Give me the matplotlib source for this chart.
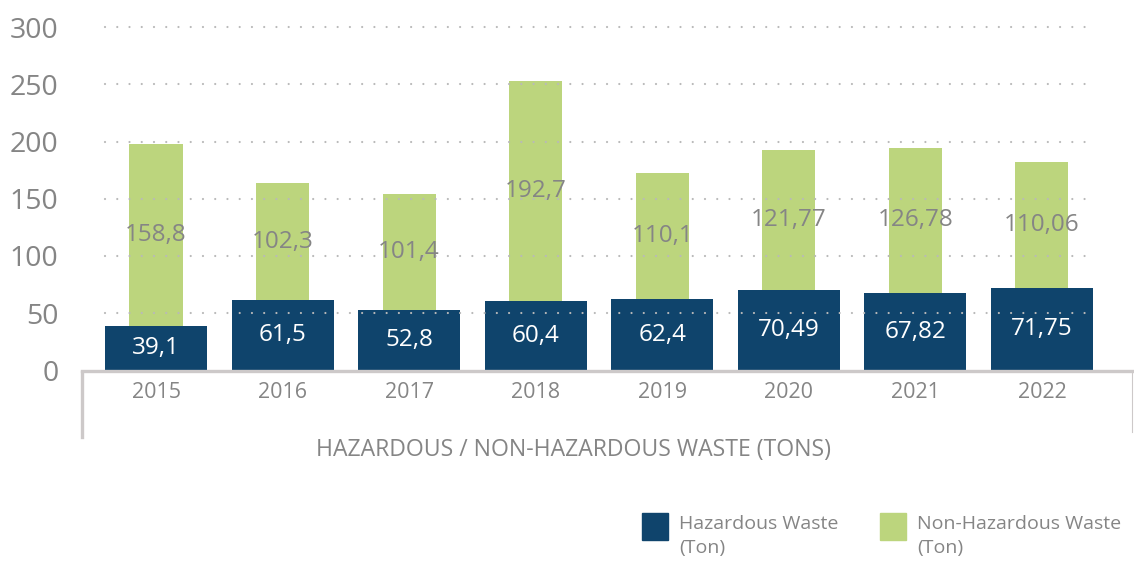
import matplotlib
matplotlib.use("Agg")
import matplotlib.pyplot as plt
from matplotlib.lines import Line2D
from matplotlib.patches import Rectangle

# data
years = ["2015", "2016", "2017", "2018", "2019", "2020", "2021", "2022"]
hazardous = [39.1, 61.5, 52.8, 60.4, 62.4, 70.49, 67.82, 71.75]
non_hazardous = [158.8, 102.3, 101.4, 192.7, 110.1, 121.77, 126.78, 110.06]
haz_labels = ["39,1", "61,5", "52,8", "60,4", "62,4", "70,49", "67,82", "71,75"]
non_haz_labels = ["158,8", "102,3", "101,4", "192,7", "110,1", "121,77", "126,78", "110,06"]
y_ticks = [0, 50, 100, 150, 200, 250, 300]

BLUE = "#0f446c"
GREEN = "#bcd57d"
GREY_TXT = "#858585"
DOTS = "#b9b9b9"
FRAME = "#cdc9c9"

plt.rcParams['font.family'] = ['Open Sans', 'DejaVu Sans']

fig = plt.figure(figsize=(11.34, 5.63), dpi=100)
ax = fig.add_axes([82 / 1134, 192.5 / 563, 1051 / 1134, 343.5 / 563])

x = list(range(len(years)))
wide, narrow = 0.806, 0.42

ax.bar(x, hazardous, width=wide, color=BLUE, zorder=2)
ax.bar(x, non_hazardous, width=narrow, bottom=hazardous, color=GREEN, zorder=1)

# dotted grid on top of the bars
for v in y_ticks[1:]:
    ax.hlines(v, -wide / 2, len(x) - 1 + wide / 2, colors=DOTS, linewidth=1.6,
              linestyles=(0, (0.01, 5.5)), capstyle='round', zorder=3, clip_on=False)

for i in x:
    ax.text(i, hazardous[i] / 2, haz_labels[i], ha='center', va='center',
            color='white', fontsize=17.5, zorder=4)
    ax.text(i, hazardous[i] + non_hazardous[i] / 2, non_haz_labels[i], ha='center',
            va='center', color=GREY_TXT, fontsize=17.5, zorder=4)

ax.set_xlim(-0.585, 7.72)
ax.set_ylim(0, 300)
ax.set_yticks(y_ticks)
ax.set_yticklabels([str(v) for v in y_ticks], fontsize=20.5, color=GREY_TXT)
ax.set_xticks(x)
ax.set_xticklabels(years, fontsize=15.5, color=GREY_TXT)
ax.tick_params(axis='y', length=0, pad=17)
ax.tick_params(axis='x', length=0, pad=8)

for s in ['top', 'right', 'left']:
    ax.spines[s].set_visible(False)
ax.spines['bottom'].set_color(FRAME)
ax.spines['bottom'].set_linewidth(2.4)
ax.spines['bottom'].set_zorder(5)

# box under the axis
fig.add_artist(Line2D([82 / 1134, 82 / 1134], [191 / 563, 126 / 563],
                      color=FRAME, linewidth=2.4))
fig.add_artist(Line2D([1132 / 1134, 1132 / 1134], [191 / 563, 131 / 563],
                      color=FRAME, linewidth=0.8))

fig.text(573 / 1134, 113 / 563, "HAZARDOUS / NON-HAZARDOUS WASTE (TONS)",
         ha='center', va='center', fontsize=16.6, color=GREY_TXT)

# legend
fig.add_artist(Rectangle((642 / 1134, 23 / 563), 26 / 1134, 27 / 563,
                         transform=fig.transFigure, color=BLUE))
fig.text(679 / 1134, 48 / 563, "Hazardous Waste\n(Ton)", ha='left', va='top',
         fontsize=14, color=GREY_TXT, linespacing=1.45)
fig.add_artist(Rectangle((880 / 1134, 23 / 563), 26 / 1134, 27 / 563,
                         transform=fig.transFigure, color=GREEN))
fig.text(917 / 1134, 48 / 563, "Non-Hazardous Waste\n(Ton)", ha='left', va='top',
         fontsize=14, color=GREY_TXT, linespacing=1.45)

fig.savefig("out.png", dpi=100)
